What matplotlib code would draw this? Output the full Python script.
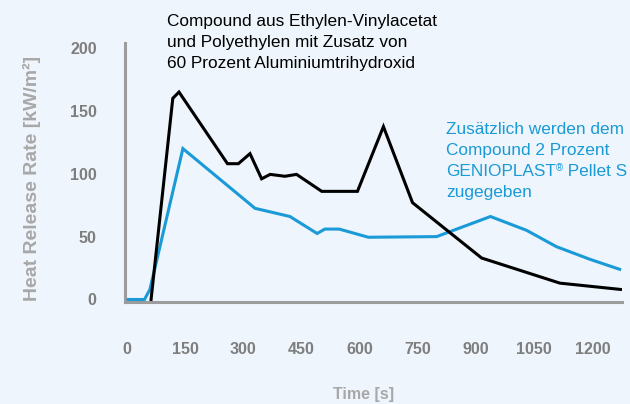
import matplotlib
matplotlib.use("Agg")
import matplotlib.pyplot as plt

# Data
t_black = [62, 118, 134, 259, 287, 317, 347, 369, 407, 437, 502, 594, 661, 736, 914, 1116, 1272]
hrr_black = [0, 160, 165, 108, 108, 116, 96, 99.5, 98, 99.5, 86, 86, 137.5, 77, 33, 13, 8]

t_blue = [3, 45, 59, 144, 330, 420, 490, 510, 547, 622, 798, 937, 1030, 1107, 1193, 1270]
hrr_blue = [0, 0, 8, 120, 72.5, 66, 52.5, 56, 56, 49.5, 50, 66, 55, 42, 32, 24]

x_ticks = [0, 150, 300, 450, 600, 750, 900, 1050, 1200]
y_ticks = [0, 50, 100, 150, 200]

bg = "#EEF5FC"
blue = "#1A9AD6"
axis_gray = "#9C9C9C"
tick_gray = "#7E7E7E"
label_gray = "#A8A8A8"

plt.rcParams['font.family'] = ['Liberation Sans', 'DejaVu Sans']

W, H = 630, 404
fig = plt.figure(figsize=(W / 100, H / 100), dpi=100, facecolor=bg)
ax = fig.add_axes([124.5 / W, (H - 302) / H, (622 - 124.5) / W, (302 - 43) / H])
ax.set_facecolor(bg)

ax.plot(t_blue, hrr_blue, color=blue, lw=2.2, solid_joinstyle='miter', zorder=3)
ax.plot(t_black, hrr_black, color="black", lw=2.2, solid_joinstyle='miter', zorder=4)

ax.set_xlim(-6.5, 1276)
ax.set_ylim(-2, 204)

for s in ['top', 'right']:
    ax.spines[s].set_visible(False)
for s in ['left', 'bottom']:
    ax.spines[s].set_color(axis_gray)
    ax.spines[s].set_linewidth(2.2)

ax.set_xticks(x_ticks)
ax.set_yticks(y_ticks)
ax.tick_params(axis='both', length=0, labelsize=11.5, labelcolor=tick_gray)
ax.tick_params(axis='x', pad=29)
ax.tick_params(axis='y', pad=20)
for lab in ax.get_xticklabels() + ax.get_yticklabels():
    lab.set_fontweight('bold')

ax.set_xlabel("Time [s]", fontsize=11.5, fontweight='bold', color=label_gray)
ax.set_ylabel("Heat Release Rate [kW/m²]", fontsize=14, fontweight='bold', color=label_gray)
ax.xaxis.set_label_coords((364 - 124.5) / 497.5, (302 - 394) / 259)
ax.xaxis.label.set_va('center')
ax.yaxis.set_label_coords((32 - 124.5) / 497.5, (302 - 178) / 259)
ax.yaxis.label.set_va('center')

fig.text(167 / W, 1 - 14 / H,
         "Compound aus Ethylen-Vinylacetat\nund Polyethylen mit Zusatz von\n60 Prozent Aluminiumtrihydroxid",
         fontsize=12.4, color="black", ha='left', va='top', linespacing=1.52)

# Blue annotation: drawn line by line, with a small raised ®
renderer = fig.canvas.get_renderer()
fs = 12.4
x0 = 446
baselines = [133.5, 155, 176, 197]
fig.text(x0 / W, 1 - baselines[0] / H, "Zusätzlich werden dem",
         fontsize=fs, color=blue, ha='left', va='baseline')
fig.text(x0 / W, 1 - baselines[1] / H, "Compound 2 Prozent",
         fontsize=fs, color=blue, ha='left', va='baseline')
t_a = fig.text(x0 / W, 1 - baselines[2] / H, "GENIOPLAST",
               fontsize=fs, color=blue, ha='left', va='baseline')
bb = t_a.get_window_extent(renderer)
t_b = fig.text(bb.x1 / W, 1 - (baselines[2] - 4.5) / H, "®",
               fontsize=7, color=blue, ha='left', va='baseline')
bb2 = t_b.get_window_extent(renderer)
fig.text(bb2.x1 / W, 1 - baselines[2] / H, " Pellet S",
         fontsize=fs, color=blue, ha='left', va='baseline')
fig.text(x0 / W, 1 - baselines[3] / H, "zugegeben",
         fontsize=fs, color=blue, ha='left', va='baseline')

fig.savefig("out.png", dpi=100, facecolor=bg)
